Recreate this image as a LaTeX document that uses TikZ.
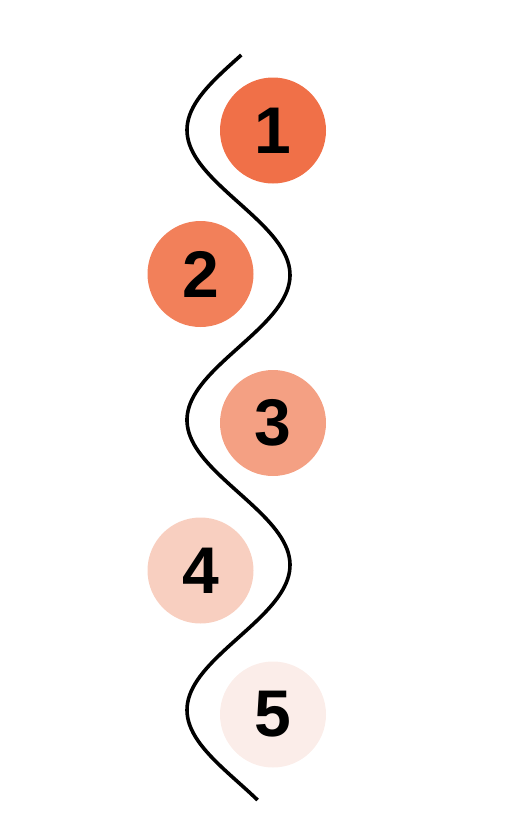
\documentclass[tikz,border=0pt]{standalone}
\usepackage{fontspec}
\setmainfont{Liberation Sans}
\definecolor{cA}{HTML}{F07048}
\definecolor{cB}{HTML}{F2805A}
\definecolor{cC}{HTML}{F4A083}
\definecolor{cD}{HTML}{F8CFC0}
\definecolor{cE}{HTML}{FBEDE9}
\tikzset{
  numcirc/.style={circle, minimum size=106pt, inner sep=0pt, font=\fontsize{66}{66}\selectfont\bfseries, text=black},
  wave/.style={line width=3.6pt, black}
}
\begin{document}
\begin{tikzpicture}[x=1pt,y=-1pt]
\useasboundingbox (0,0) rectangle (522,833);
\draw[wave] plot[domain=55:800, samples=200, variable=\t] ({238.5-51.5*cos(1.24138*(\t-130))},\t);
\node[numcirc, fill=cA] (c1) at (273,130.5) {1};
\node[numcirc, fill=cB] (c2) at (200.5,274) {2};
\node[numcirc, fill=cC] (c3) at (273,423) {3};
\node[numcirc, fill=cD] (c4) at (200.5,570.5) {4};
\node[numcirc, fill=cE] (c5) at (273,714.5) {5};
\end{tikzpicture}
\end{document}
